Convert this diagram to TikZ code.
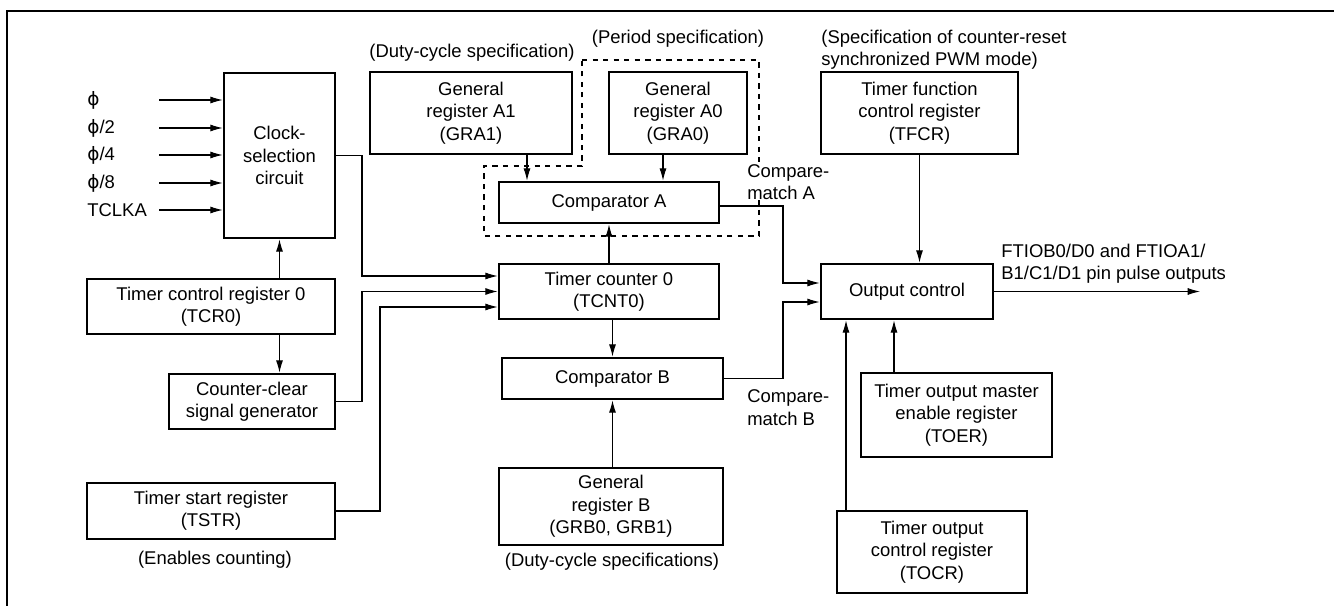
\documentclass[tikz,border=0pt]{standalone}
\usepackage{fontspec}
\setmainfont{Liberation Sans}
\newfontfamily\symbfont{DejaVu Sans}
\newcommand{\phisym}{{\symbfont ϕ}}
\usetikzlibrary{arrows.meta}

\begin{document}
\begin{tikzpicture}[
    font=\fontsize{10.5}{12.7}\selectfont,
    >={Latex[length=7pt,width=4pt]},
    reg/.style={draw, line width=1.5pt, align=center, inner sep=0pt},
    sig/.style={->, line width=0.6pt},
    note/.style={inner sep=0pt, align=left}
  ]
  \useasboundingbox (0,0) rectangle (26.68,12.12);

  % Frame (only top and left edges are visible)
  \draw[line width=1.3pt] (26.68,11.90) -- (0.14,11.90) -- (0.14,0);

  %%%%%%%%%%%%%%%%%%%%%%%%%%%%%%%%%%%%%%%%%%%%%%
  % Left: clock selection and control registers
  %%%%%%%%%%%%%%%%%%%%%%%%%%%%%%%%%%%%%%%%%%%%%%
  \node[reg, minimum width=2.22cm, minimum height=3.30cm] (clk) at (5.59,9.01) {Clock-\\selection\\circuit};
  \node[reg, minimum width=4.96cm, minimum height=1.10cm] (tcr) at (4.22,5.99) {Timer control register 0\\(TCR0)};
  \node[reg, minimum width=3.32cm, minimum height=1.10cm] (ccg) at (5.04,4.09) {Counter-clear\\signal generator};
  \node[reg, minimum width=4.96cm, minimum height=1.12cm] (tstr) at (4.22,1.90) {Timer start register\\(TSTR)};
  \node[note] (tstrnote) at (4.30,0.92) {(Enables counting)};

  % Clock inputs
  \foreach \lbl/\yy [count=\i] in {{\phisym}/10.12, {\phisym/2}/9.56, {\phisym/4}/9.02, {\phisym/8}/8.46, {TCLKA}/7.92}{
    \node[note, anchor=west] (in\i) at (1.74,\yy) {\lbl};
    \coordinate (src\i) at (3.18,\yy);
    \draw[sig] (src\i) -- (src\i -| clk.west);
  }

  \draw[sig] (clk.south |- tcr.north) -- (clk.south);
  \draw[sig] (clk.south |- tcr.south) -- (clk.south |- ccg.north);

  %%%%%%%%%%%%%%%%%%%%%%%%%%%%%%%%%%%%%%%%%%%%%%
  % Middle: counter, comparators, general registers
  %%%%%%%%%%%%%%%%%%%%%%%%%%%%%%%%%%%%%%%%%%%%%%
  % Dashed outline round GRA0 and comparator A
  \draw[dashed, line width=0.6pt] (11.64,10.92) -- (15.18,10.92) -- (15.18,7.40)
    -- (9.68,7.40) -- (9.68,8.80) -- (11.64,8.80) -- cycle;

  \node[reg, minimum width=4.04cm, minimum height=1.64cm] (gra1) at (9.42,9.86) {General\\register A1\\(GRA1)};
  \node[reg, minimum width=2.76cm, minimum height=1.64cm] (gra0) at (13.56,9.86) {General\\register A0\\(GRA0)};
  \node[note] (gra1note) at (9.44,11.06) {(Duty-cycle specification)};
  \node[note] (gra0note) at (13.56,11.34) {(Period specification)};

  \node[reg, minimum width=4.40cm, minimum height=0.82cm] (cmpa) at (12.18,8.07) {Comparator A};
  \node[reg, minimum width=4.40cm, minimum height=1.10cm] (tcnt) at (12.18,6.29) {Timer counter 0\\(TCNT0)};
  \node[reg, minimum width=4.42cm, minimum height=0.82cm] (cmpb) at (12.25,4.55) {Comparator B};
  \node[reg, minimum width=4.48cm, minimum height=1.54cm] (grb) at (12.22,1.99) {General\\register B\\(GRB0, GRB1)};
  \node[note] (grbnote) at (12.24,0.88) {(Duty-cycle specifications)};

  \node[note, anchor=west, fill=white] (cmanote) at (14.94,8.48) {Compare-\\match A};
  \node[note, anchor=west] (cmbnote) at (14.94,3.97) {Compare-\\match B};

  % Vertical runs of the bent connectors
  \coordinate (busa) at (7.24,0);
  \coordinate (busb) at (7.60,0);
  \coordinate (busc) at (15.66,0);

  % Into the counter
  \draw[sig] (clk.east) -- (clk.east -| busa) |- ([yshift=0.31cm]tcnt.west);
  \draw[sig] (ccg.east) -- (ccg.east -| busa) |- (tcnt.west);
  \draw[sig] (tstr.east) -- (tstr.east -| busb) |- ([yshift=-0.31cm]tcnt.west);

  \draw[sig] ([xshift=1.12cm]gra1.south) -- ([xshift=1.12cm]gra1.south |- cmpa.north);
  \draw[sig] ([xshift=-0.30cm]gra0.south) -- ([xshift=-0.30cm]gra0.south |- cmpa.north);
  \draw[sig] (tcnt.north) -- (cmpa.south);
  \draw[sig] (cmpb.north |- tcnt.south) -- (cmpb.north);
  \draw[sig] (cmpb.south |- grb.north) -- (cmpb.south);

  %%%%%%%%%%%%%%%%%%%%%%%%%%%%%%%%%%%%%%%%%%%%%%
  % Right: output control
  %%%%%%%%%%%%%%%%%%%%%%%%%%%%%%%%%%%%%%%%%%%%%%
  \node[reg, minimum width=3.94cm, minimum height=1.64cm] (tfcr) at (18.39,9.86) {Timer function\\control register\\(TFCR)};
  \node[note, anchor=west] (tfcrnote) at (16.42,11.12) {(Specification of counter-reset\\synchronized PWM mode)};
  \node[reg, minimum width=3.44cm, minimum height=1.10cm] (outc) at (18.14,6.29) {Output control};
  \node[reg, minimum width=3.82cm, minimum height=1.68cm] (toer) at (19.13,3.82) {Timer output master\\enable register\\(TOER)};
  \node[reg, minimum width=3.80cm, minimum height=1.64cm] (tocr) at (18.64,1.08) {Timer output\\control register\\(TOCR)};
  \node[note, anchor=west] (outnote) at (20.02,6.85) {FTIOB0/D0 and FTIOA1/\\B1/C1/D1 pin pulse outputs};
  \coordinate (pout) at (24.00,6.29);

  \draw[sig] ([yshift=-0.07cm]cmpa.east) -- ([yshift=-0.07cm]cmpa.east -| busc) |- ([yshift=0.17cm]outc.west);
  \draw[sig] (cmpb.east) -- (cmpb.east -| busc) |- ([yshift=-0.21cm]outc.west);
  \draw[sig] (tfcr.south) -- (tfcr.south |- outc.north);
  \draw[sig] ([xshift=-1.25cm]toer.north) -- ([xshift=-1.25cm]toer.north |- outc.south);
  \draw[sig] ([xshift=-1.72cm]tocr.north) -- ([xshift=-1.72cm]tocr.north |- outc.south);
  \draw[sig] (outc.east) -- (pout);
\end{tikzpicture}
\end{document}
